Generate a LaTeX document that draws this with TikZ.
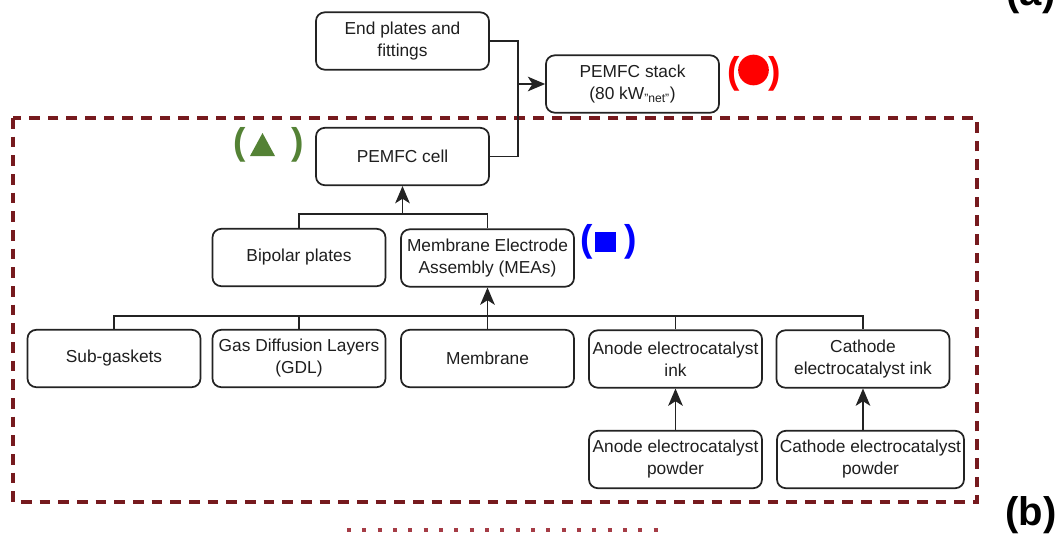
\documentclass[tikz,border=0pt]{standalone}
\usepackage{fontspec}
\setmainfont{Liberation Sans}
\usetikzlibrary{arrows.meta}
\definecolor{framec}{RGB}{118,26,30}
\definecolor{boxc}{RGB}{35,35,35}
\definecolor{txt}{RGB}{30,30,30}
\definecolor{mred}{RGB}{255,0,0}
\definecolor{mgreen}{RGB}{84,130,53}
\definecolor{mblue}{RGB}{0,0,255}
\definecolor{ghost}{RGB}{165,60,70}
\begin{document}
\begin{tikzpicture}[x=0.75pt,y=-0.75pt,
  box/.style={draw=boxc, line width=1.3pt, rounded corners=6.5pt,
    minimum width=129.75pt, minimum height=43pt, align=center, inner sep=1pt,
    font=\fontsize{13}{16.5}\selectfont, text=txt},
  conn/.style={draw=boxc, line width=1.15pt},
  arr/.style={conn, -{Stealth[length=13pt,width=11pt,inset=3.5pt]}},
  mk/.style={inner sep=0pt, font=\fontsize{28}{28}\selectfont\bfseries},
  lbl/.style={inner sep=0pt, font=\fontsize{30}{30}\selectfont\bfseries},
]
\useasboundingbox (0,0) rectangle (1058,536);
\clip (0,0) rectangle (1058,536);

% dashed frame
\draw[framec, line width=2.6pt, dash pattern=on 8pt off 6pt] (13,118) rectangle (977,502);
% partial frame fragment at the bottom
\draw[ghost, line width=2.4pt, dash pattern=on 3pt off 8.5pt] (347,530) -- (660,530);

% boxes
\node[box] (endp)  at (402.5,41)    {End plates and\\fittings};
\node[box] (stack) at (632.5,84)    {PEMFC stack\\(80 kW\textsubscript{"net"})};
\node[box] (cell)  at (402.5,156.5) {PEMFC cell};
\node[box] (bip)   at (299,257.5)   {Bipolar plates};
\node[box] (mea)   at (487.5,258)   {Membrane Electrode\\Assembly (MEAs)};
\node[box] (sub)   at (114,358.5)   {Sub-gaskets};
\node[box] (gdl)   at (299,358.5)   {Gas Diffusion Layers\\(GDL)};
\node[box] (mem)   at (487.5,358.5) {Membrane};
\node[box] (anink) at (675.5,359)   {Anode electrocatalyst\\ink};
\node[box] (caink) at (863,359)     {Cathode\\electrocatalyst ink};
\node[box] (anpow) at (675.5,459.5) {Anode electrocatalyst\\powder};
\node[box, minimum width=140.25pt] (capow) at (870.5,459.5) {Cathode electrocatalyst\\powder};

% connectors
\coordinate (j) at (518,84);
\draw[conn] (endp.east) -| (j) |- (cell.east);
\draw[arr] (j) -- (stack.west);

\coordinate (b1) at (402.5,214);
\draw[conn] (bip.north) |- (b1) -| (mea.north);
\draw[arr] (b1) -- (cell.south);

\coordinate (b2) at (487.5,316);
\draw[conn] (sub.north) |- (b2) -| (caink.north);
\draw[conn] (gdl.north) -- (gdl.north |- b2);
\draw[conn] (mem.north) -- (b2);
\draw[conn] (anink.north) -- (anink.north |- b2);
\draw[arr] (b2) -- (mea.south);
\draw[arr] (anpow.north) -- (anink.south);
\draw[arr] (capow.north -| caink.south) -- (caink.south);

% markers
\node[mk, text=mred] (rl) at (734,73.5) {(};
\node[mk, text=mred] (rr) at (775,73.5) {)};
\fill[mred] (753.5,70) circle[radius=11.5pt];

\node[mk, text=mgreen] (gl) at (240,145) {(};
\node[mk, text=mgreen] (gr) at (298,145) {)};
\fill[mgreen] (250,156) -- (275,156) -- (262.5,133) -- cycle;

\node[mk, text=mblue] (bl) at (587,241.5) {(};
\node[mk, text=mblue] (br) at (631,241.5) {)};
\fill[mblue] (595,232) rectangle (616,252);

% panel labels
\node[lbl, anchor=base] (la) at (1031,5) {(a)};
\node[lbl] (lb) at (1031,515) {(b)};
\end{tikzpicture}
\end{document}
